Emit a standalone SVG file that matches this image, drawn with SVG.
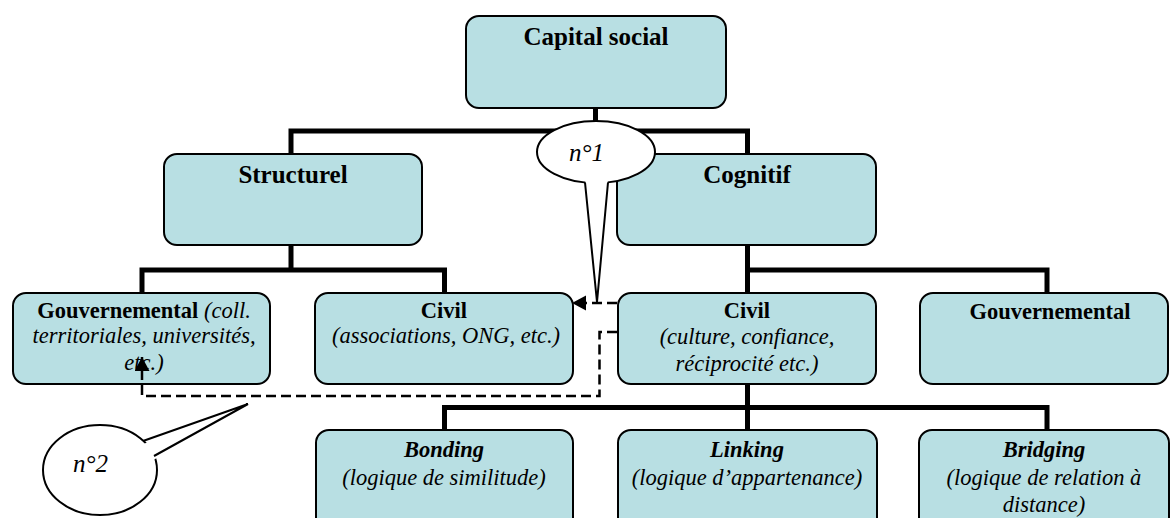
<svg xmlns="http://www.w3.org/2000/svg" width="1171" height="518" viewBox="0 0 1171 518">
<style>
.box{fill:#B8DFE3;stroke:#000;stroke-width:2}
.tree{fill:none;stroke:#000;stroke-width:5}
.dash{fill:none;stroke:#000;stroke-width:2.5;stroke-dasharray:10 5}
text{font-family:'Liberation Serif','Times New Roman','DejaVu Serif',serif;fill:#000}
.t{text-anchor:middle}
.h1{font-size:25px;font-weight:bold}
.b{font-size:22.5px;font-weight:bold}
.i{font-size:22.5px;font-style:italic}
.bi{font-size:22.5px;font-weight:bold;font-style:italic}
.call{fill:#fff;stroke:#000;stroke-width:2}
.ct{font-size:25px;font-style:italic}
</style>
<defs>
<marker id="arr" markerUnits="userSpaceOnUse" markerWidth="16" markerHeight="16" refX="14" refY="7.5" orient="auto">
<path d="M0,0 L14,7.5 L0,15 z" fill="#000"/>
</marker>
</defs>
<rect width="1171" height="518" fill="#fff"/>
<g id="connectors">
<path class="tree" d="M595.5,108 V131 M291,154 V131 H747.5 V154"/>
<path class="tree" d="M291,245 V270 M142,293 V270 H444.5 V293"/>
<path class="tree" d="M747.5,245 V293 M747.5,270 H1047 V293"/>
<path class="tree" d="M747.5,384 V430 M444.5,430 V407.5 H1047 V430"/>
</g>
<g id="capital"><rect class="box" x="466" y="16" width="260" height="92" rx="13"/><text class="t h1" x="596" y="45" font-family="Liberation Serif, serif">Capital social</text></g>
<g id="structurel"><rect class="box" x="164" y="154" width="258" height="91" rx="13"/><text class="t h1" x="293" y="183" font-family="Liberation Serif, serif">Structurel</text></g>
<g id="cognitif"><rect class="box" x="617" y="154" width="259" height="91" rx="13"/><text class="t h1" x="747" y="183" font-family="Liberation Serif, serif">Cognitif</text></g>
<g id="gouv-struct" font-family="Liberation Serif, serif"><rect class="box" x="13" y="293" width="257" height="91" rx="13"/>
<text class="t" x="144" y="318"><tspan class="b">Gouvernemental</tspan><tspan class="i"> (coll.</tspan></text>
<text class="t i" x="144" y="343">territoriales, universités,</text>
<text class="t i" x="144" y="370">etc.)</text></g>
<g id="civil-struct"><rect class="box" x="315" y="293" width="258" height="91" rx="13"/>
<text class="t b" x="444" y="318">Civil</text>
<text class="t i" x="446" y="343">(associations, ONG, etc.)</text></g>
<g id="civil-cog"><rect class="box" x="618" y="293" width="258" height="91" rx="13"/>
<text class="t b" x="747" y="318">Civil</text>
<text class="t i" x="747" y="344">(culture, confiance,</text>
<text class="t i" x="747" y="371">réciprocité etc.)</text></g>
<g id="gouv-cog"><rect class="box" x="920" y="293" width="248" height="91" rx="13"/>
<text class="t b" x="1050" y="319">Gouvernemental</text></g>
<g id="bonding"><rect class="box" x="316" y="430" width="257" height="100" rx="13"/>
<text class="t bi" x="444" y="457">Bonding</text>
<text class="t i" x="444" y="485">(logique de similitude)</text></g>
<g id="linking"><rect class="box" x="618" y="430" width="259" height="100" rx="13"/>
<text class="t bi" x="747" y="457">Linking</text>
<text class="t i" x="747" y="485">(logique d’appartenance)</text></g>
<g id="bridging"><rect class="box" x="919" y="430" width="250" height="100" rx="13"/>
<text class="t bi" x="1044" y="457">Bridging</text>
<text class="t i" x="1044" y="485">(logique de relation à</text>
<text class="t i" x="1044" y="512">distance)</text></g>
<g id="dashed-connectors">
<path class="dash" d="M617,303 H572" marker-end="url(#arr)"/>
<path class="dash" d="M617,332 H599.5 V396 H142 V357" marker-end="url(#arr)"/>
</g>
<g id="callout-1">
<ellipse class="call" cx="596" cy="152" rx="59" ry="31"/>
<polygon points="585,178 608,178 597,302" fill="#fff"/>
<polyline points="585,182.5 597,302 608,182.5" fill="none" stroke="#000" stroke-width="2"/>
<text class="ct" x="569" y="161">n°1</text>
</g>
<g id="callout-2">
<ellipse class="call" cx="100" cy="470" rx="57" ry="45"/>
<polygon points="138,446 150,462 248,404" fill="#fff"/>
<polyline points="143,441 248,404 154,456" fill="none" stroke="#000" stroke-width="2"/>
<text class="ct" x="73" y="472">n°2</text>
</g>
</svg>
